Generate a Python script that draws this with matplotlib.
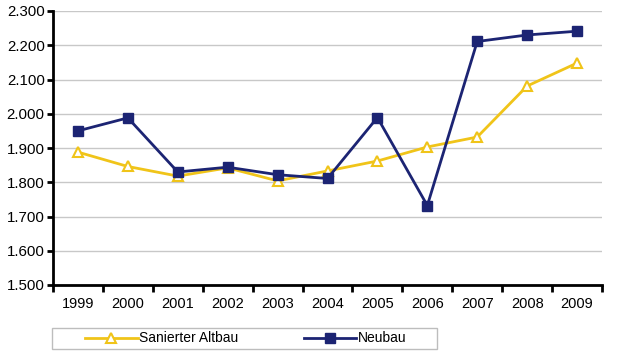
import matplotlib
matplotlib.use("Agg")
import matplotlib.pyplot as plt
from matplotlib.patches import Rectangle
from matplotlib.ticker import FuncFormatter, FixedLocator

plt.rcParams['font.family'] = ['Liberation Sans', 'DejaVu Sans']

years = ['1999', '2000', '2001', '2002', '2003', '2004', '2005', '2006', '2007', '2008', '2009']
altbau = [1888, 1846, 1818, 1842, 1804, 1833, 1862, 1903, 1932, 2081, 2148]
neubau = [1950, 1988, 1830, 1844, 1822, 1811, 1989, 1732, 2211, 2230, 2241]

yellow = '#F0C419'
navy = '#1C2473'

W, H = 619, 354
fig = plt.figure(figsize=(W / 100, H / 100), dpi=100)
ax = fig.add_axes([53 / W, (H - 285) / H, (602 - 53) / W, (285 - 11) / H])

x = list(range(len(years)))
l1, = ax.plot(x, altbau, color=yellow, lw=2, marker='^', ms=7.5,
              mfc='white', mec=yellow, mew=1.5, label='Sanierter Altbau', zorder=3)
l2, = ax.plot(x, neubau, color=navy, lw=2, marker='s', ms=7,
              mfc=navy, mec=navy, label='Neubau', zorder=4)

ax.set_xlim(-0.5, len(years) - 0.5)
ax.set_ylim(1500, 2300)
ax.set_yticks(range(1500, 2301, 100))
ax.yaxis.set_major_formatter(FuncFormatter(lambda v, p: f"{int(v)//1000}.{int(v)%1000:03d}"))
ax.set_xticks(x)
ax.set_xticklabels(years)
ax.xaxis.set_minor_locator(FixedLocator([i - 0.5 for i in range(len(years) + 1)]))
ax.tick_params(axis='x', which='major', length=0, pad=9, labelsize=10.5)
ax.tick_params(axis='x', which='minor', length=5, width=2, color='black', direction='out')
ax.tick_params(axis='y', length=4, width=2, labelsize=10.8, pad=2)

ax.grid(axis='y', color='#c8c8c8', lw=1)
ax.set_axisbelow(True)
for s in ['top', 'right']:
    ax.spines[s].set_visible(False)
for s in ['left', 'bottom']:
    ax.spines[s].set_linewidth(2)
    ax.spines[s].set_color('black')

# legend box
fig.patches.append(Rectangle((52 / W, (H - 349) / H), (437 - 52) / W, (349 - 328) / H,
                             transform=fig.transFigure, fill=False, ec='#bdbdbd', lw=1))
leg = fig.legend(handles=[l1, l2], loc='center left',
                 bbox_to_anchor=(85 / W, (H - 338.5) / H), ncol=2, frameon=False,
                 fontsize=10, handlelength=3.8, handletextpad=0.1, columnspacing=4.7,
                 borderpad=0, borderaxespad=0)

fig.savefig('out.png', dpi=100)
